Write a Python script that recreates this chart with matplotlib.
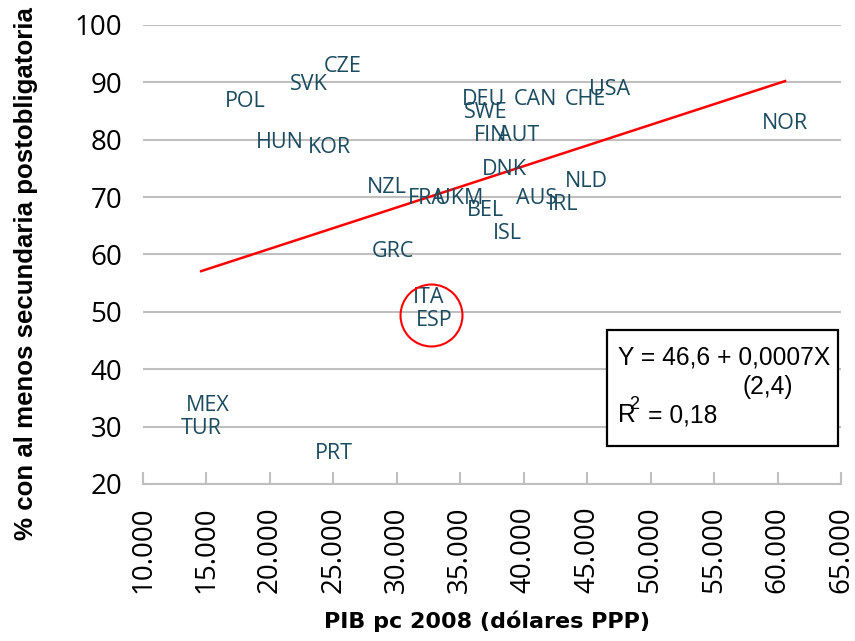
import matplotlib
matplotlib.use("Agg")
import matplotlib.pyplot as plt
from matplotlib.patches import Rectangle
from matplotlib.ticker import FuncFormatter

# Country codes, GDP per capita 2008 (PPP dollars) and share with upper secondary
countries = ["CZE", "SVK", "POL", "HUN", "KOR", "NZL", "FRA", "UKM", "DEU", "SWE",
             "CAN", "CHE", "USA", "FIN", "AUT", "DNK", "NLD", "AUS", "IRL", "BEL",
             "ISL", "NOR", "GRC", "ITA", "ESP", "MEX", "TUR", "PRT"]
gdp_pc = [25700, 23100, 18050, 20800, 24680, 29180, 32400, 34940, 36830, 37000,
          40940, 44890, 46780, 37390, 39600, 38490, 44960, 41020, 43070, 37000,
          38730, 60590, 29730, 32490, 32970, 15130, 14580, 25070]
pct_secondary = [92.7, 89.6, 86.6, 79.5, 78.6, 71.7, 69.7, 69.7, 87.0, 84.7,
                 87.0, 87.0, 88.7, 80.7, 80.7, 74.8, 72.7, 69.7, 68.7, 67.7,
                 63.7, 82.8, 60.5, 52.5, 48.5, 33.6, 29.6, 25.4]

# Linear fit statistics
intercept = 46.6
slope = 0.00072
t_stat = 2.4
r_squared = 0.18

# Highlighted point (Spain)
highlight = (32730, 49.4)

W, H = 855, 641
fig = plt.figure(figsize=(W / 100, H / 100), dpi=100)


def fx(px):
    return px / W


def fy(py):
    return 1 - py / H


ax = fig.add_axes([fx(143), fy(484), fx(841) - fx(143), fy(25) - fy(484)])

label_color = "#1B4B5F"
grid_color = "#BFBFBF"

for name, x, y in zip(countries, gdp_pc, pct_secondary):
    ax.text(x, y, name, ha="center", va="center", color=label_color,
            fontsize=15.5, family="Open Sans", zorder=4)

# Trend line over the observed GDP range
x0, x1 = min(gdp_pc), max(gdp_pc)
ax.plot([x0, x1], [intercept + slope * x0, intercept + slope * x1],
        color="#FF0000", lw=1.8, zorder=3)

ax.plot([highlight[0]], [highlight[1]], marker="o", markersize=44.6,
        mfc="none", mec="#FF0000", mew=1.5, zorder=5)

ax.set_xlim(10000, 65000)
ax.set_ylim(20, 100)
ax.set_xticks(range(10000, 65001, 5000))
ax.set_yticks(range(20, 101, 10))
ax.xaxis.set_major_formatter(FuncFormatter(lambda v, p: f"{int(v):,}".replace(",", ".")))

ax.yaxis.grid(True, color=grid_color, lw=1.5)
ax.set_axisbelow(True)
for s in ("top", "right", "left"):
    ax.spines[s].set_visible(False)
ax.spines["bottom"].set_color(grid_color)
ax.spines["bottom"].set_linewidth(1.5)

ax.tick_params(axis="x", direction="in", length=8.6, width=1.5, color=grid_color,
               pad=16, labelsize=20, labelrotation=90)
ax.tick_params(axis="y", length=0, pad=15, labelsize=20)
for lab in ax.get_xticklabels() + ax.get_yticklabels():
    lab.set_family("Open Sans")
    lab.set_color("black")

fig.text(fx(26), fy(274), "% con al menos secundaria postobligatoria", rotation=90,
         ha="center", va="center", fontsize=18.6, fontweight="bold",
         family="Liberation Sans")
fig.text(fx(487), fy(621), "PIB pc 2008 (dólares PPP)", ha="center", va="center",
         fontsize=16, fontweight="bold", family="DejaVu Sans")

# Regression box
fig.patches.append(Rectangle((fx(607), fy(446)), fx(838) - fx(607), fy(330) - fy(446),
                             transform=fig.transFigure, fill=True, facecolor="white",
                             edgecolor="black", lw=1.6, zorder=6))
eq_kw = dict(family="Liberation Sans", color="black", zorder=7, va="baseline")
fmt = lambda v, d: f"{v:.{d}f}".replace(".", ",")
fig.text(fx(618), fy(365), f"Y = {fmt(intercept, 1)} + {fmt(slope, 4)}X", fontsize=17.7, **eq_kw)
fig.text(fx(742), fy(394), f"({fmt(t_stat, 1)})", fontsize=17.7, **eq_kw)
fig.text(fx(618), fy(422), "R", fontsize=17.7, **eq_kw)
fig.text(fx(629), fy(409), "2", fontsize=13, **eq_kw)
fig.text(fx(648), fy(422), f"= {fmt(r_squared, 2)}", fontsize=17.7, **eq_kw)

fig.savefig("out.png", dpi=100)
